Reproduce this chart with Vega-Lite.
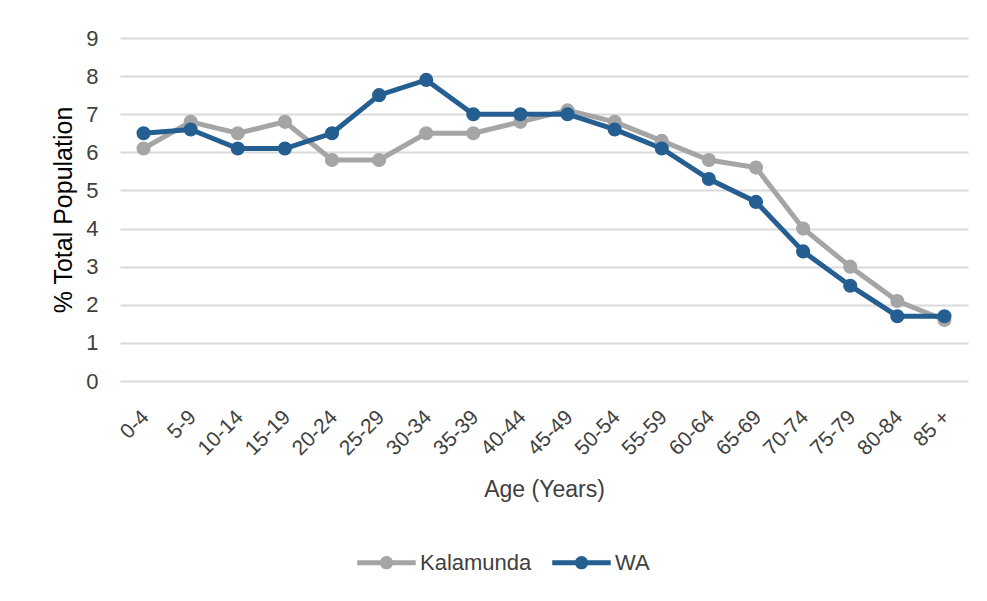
{
  "$schema": "https://vega.github.io/schema/vega-lite/v6.json",
  "width": 848,
  "height": 343,
  "autosize": {"type": "none"},
  "padding": {"left": 120, "top": 38, "right": 19, "bottom": 220},
  "background": "white",
  "config": {
    "view": {"stroke": null},
    "font": "Liberation Sans, sans-serif"
  },
  "data": {
    "values": [
      {"age": "0-4", "series": "Kalamunda", "pct": 6.1},
      {"age": "5-9", "series": "Kalamunda", "pct": 6.8},
      {"age": "10-14", "series": "Kalamunda", "pct": 6.5},
      {"age": "15-19", "series": "Kalamunda", "pct": 6.8},
      {"age": "20-24", "series": "Kalamunda", "pct": 5.8},
      {"age": "25-29", "series": "Kalamunda", "pct": 5.8},
      {"age": "30-34", "series": "Kalamunda", "pct": 6.5},
      {"age": "35-39", "series": "Kalamunda", "pct": 6.5},
      {"age": "40-44", "series": "Kalamunda", "pct": 6.8},
      {"age": "45-49", "series": "Kalamunda", "pct": 7.1},
      {"age": "50-54", "series": "Kalamunda", "pct": 6.8},
      {"age": "55-59", "series": "Kalamunda", "pct": 6.3},
      {"age": "60-64", "series": "Kalamunda", "pct": 5.8},
      {"age": "65-69", "series": "Kalamunda", "pct": 5.6},
      {"age": "70-74", "series": "Kalamunda", "pct": 4.0},
      {"age": "75-79", "series": "Kalamunda", "pct": 3.0},
      {"age": "80-84", "series": "Kalamunda", "pct": 2.1},
      {"age": "85 +", "series": "Kalamunda", "pct": 1.6},
      {"age": "0-4", "series": "WA", "pct": 6.5},
      {"age": "5-9", "series": "WA", "pct": 6.6},
      {"age": "10-14", "series": "WA", "pct": 6.1},
      {"age": "15-19", "series": "WA", "pct": 6.1},
      {"age": "20-24", "series": "WA", "pct": 6.5},
      {"age": "25-29", "series": "WA", "pct": 7.5},
      {"age": "30-34", "series": "WA", "pct": 7.9},
      {"age": "35-39", "series": "WA", "pct": 7.0},
      {"age": "40-44", "series": "WA", "pct": 7.0},
      {"age": "45-49", "series": "WA", "pct": 7.0},
      {"age": "50-54", "series": "WA", "pct": 6.6},
      {"age": "55-59", "series": "WA", "pct": 6.1},
      {"age": "60-64", "series": "WA", "pct": 5.3},
      {"age": "65-69", "series": "WA", "pct": 4.7},
      {"age": "70-74", "series": "WA", "pct": 3.4},
      {"age": "75-79", "series": "WA", "pct": 2.5},
      {"age": "80-84", "series": "WA", "pct": 1.7},
      {"age": "85 +", "series": "WA", "pct": 1.7}
    ]
  },
  "encoding": {
    "x": {
      "field": "age", "type": "ordinal", "sort": null,
      "scale": {"type": "point", "padding": 0.5},
      "axis": {
        "title": "Age (Years)", "titleFontSize": 23, "titleFontWeight": "normal", "titleColor": "#404040",
        "titlePadding": 20,
        "labelAngle": -45, "labelFontSize": 21, "labelColor": "#404040", "labelPadding": 25, "labelOffset": -6,
        "domain": false, "ticks": false, "grid": false
      }
    },
    "y": {
      "field": "pct", "type": "quantitative",
      "scale": {"domain": [0, 9]},
      "axis": {
        "title": "% Total Population", "titleFontSize": 25, "titleFontWeight": "normal", "titleColor": "#000000",
        "titlePadding": 9,
        "values": [0,1,2,3,4,5,6,7,8,9],
        "labelFontSize": 22, "labelColor": "#404040", "labelPadding": 22,
        "domain": false, "ticks": false,
        "grid": true, "gridColor": "#D9D9D9", "gridWidth": 2
      }
    },
    "color": {
      "field": "series", "type": "nominal",
      "scale": {"domain": ["Kalamunda", "WA"], "range": ["#A5A5A5", "#255E91"]},
      "legend": {
        "title": null, "orient": "none", "direction": "horizontal",
        "legendX": 249, "legendY": 507,
        "labelFontSize": 22, "labelColor": "#404040",
        "symbolType": "M -1.95 0 L 1.95 0 M 0.28 0 A 0.28 0.28 0 1 1 -0.28 0 A 0.28 0.28 0 1 1 0.28 0 Z",
        "symbolSize": 900, "symbolStrokeWidth": 5, "columnPadding": 10, "labelOffset": 16
      }
    }
  },
  "layer": [
    {"mark": {"type": "line", "strokeWidth": 5}},
    {"mark": {"type": "point", "filled": true, "opacity": 1, "size": 200}}
  ]
}
